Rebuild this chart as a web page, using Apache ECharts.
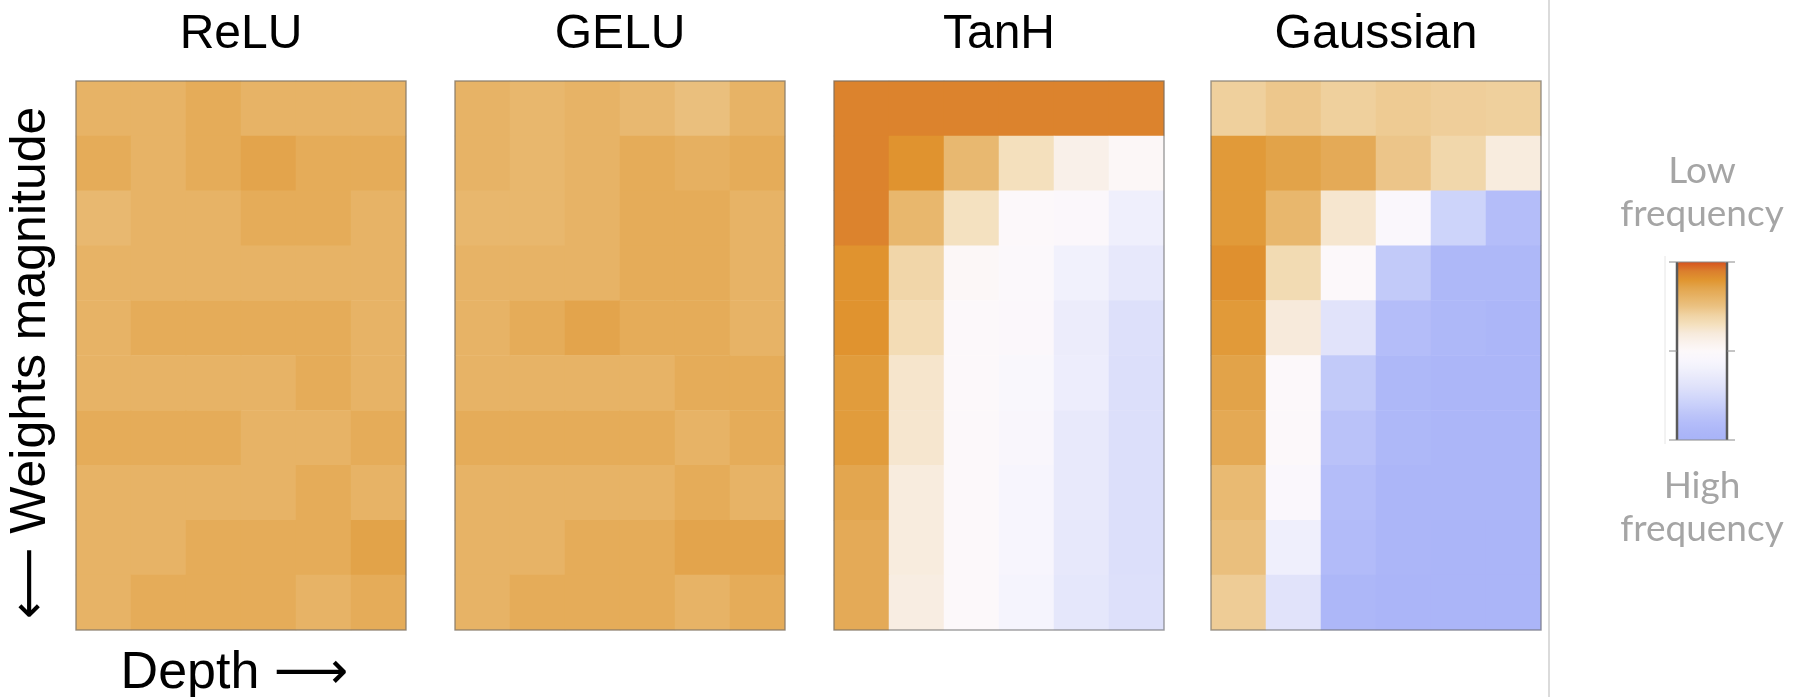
<!DOCTYPE html>
<html>
<head>
<meta charset="utf-8">
<title>Activation spectra</title>
<script src="https://cdn.jsdelivr.net/npm/echarts@6/dist/echarts.min.js"></script>
<style>
  html, body { margin: 0; padding: 0; background: #fff; }
  #chart { width: 1794px; height: 697px; }
</style>
</head>
<body>
<div id="chart"></div>
<script>
// Panels: activation functions, each a depth x weight-magnitude grid of
// frequency scores (+1 = low frequency, -1 = high frequency).
const panelNames = ['ReLU', 'GELU', 'TanH', 'Gaussian'];
const depthLevels = ['1', '2', '3', '4', '5', '6'];
const magnitudeLevels = ['1', '2', '3', '4', '5', '6', '7', '8', '9', '10'];

// Rows run from smallest weight magnitude (top) to largest (bottom).
const reluValues = [
  [0.61, 0.61, 0.66, 0.61, 0.61, 0.61],
  [0.66, 0.61, 0.66, 0.71, 0.66, 0.66],
  [0.57, 0.61, 0.61, 0.66, 0.66, 0.61],
  [0.61, 0.61, 0.61, 0.61, 0.61, 0.61],
  [0.61, 0.66, 0.66, 0.66, 0.66, 0.61],
  [0.61, 0.61, 0.61, 0.61, 0.66, 0.61],
  [0.66, 0.66, 0.66, 0.61, 0.61, 0.66],
  [0.61, 0.61, 0.61, 0.61, 0.66, 0.61],
  [0.61, 0.61, 0.66, 0.66, 0.66, 0.72],
  [0.61, 0.66, 0.66, 0.66, 0.61, 0.66]
];

const geluValues = [
  [0.61, 0.58, 0.61, 0.57, 0.52, 0.61],
  [0.61, 0.58, 0.61, 0.66, 0.63, 0.66],
  [0.58, 0.58, 0.61, 0.66, 0.66, 0.61],
  [0.61, 0.61, 0.61, 0.66, 0.66, 0.61],
  [0.61, 0.66, 0.71, 0.66, 0.66, 0.61],
  [0.61, 0.61, 0.61, 0.61, 0.66, 0.66],
  [0.66, 0.66, 0.66, 0.66, 0.61, 0.66],
  [0.61, 0.61, 0.61, 0.61, 0.66, 0.61],
  [0.61, 0.61, 0.66, 0.66, 0.71, 0.71],
  [0.61, 0.66, 0.66, 0.66, 0.61, 0.66]
];

const tanhValues = [
  [0.88, 0.88, 0.88, 0.88, 0.88, 0.88],
  [0.88, 0.81, 0.57, 0.30, 0.12, 0.02],
  [0.88, 0.58, 0.29, 0.00, -0.03, -0.22],
  [0.81, 0.38, 0.02, -0.02, -0.20, -0.31],
  [0.81, 0.33, 0.00, -0.03, -0.26, -0.42],
  [0.76, 0.25, 0.00, -0.07, -0.25, -0.43],
  [0.76, 0.24, 0.00, -0.08, -0.30, -0.43],
  [0.70, 0.18, 0.00, -0.12, -0.30, -0.43],
  [0.67, 0.18, 0.00, -0.12, -0.31, -0.43],
  [0.67, 0.16, -0.01, -0.15, -0.33, -0.42]
];

const gaussianValues = [
  [0.42, 0.47, 0.42, 0.45, 0.43, 0.42],
  [0.77, 0.72, 0.67, 0.48, 0.37, 0.18],
  [0.77, 0.58, 0.24, -0.05, -0.56, -0.80],
  [0.82, 0.34, 0.00, -0.66, -0.88, -0.88],
  [0.77, 0.20, -0.38, -0.80, -0.88, -0.92],
  [0.72, 0.00, -0.66, -0.88, -0.92, -0.92],
  [0.68, 0.00, -0.74, -0.88, -0.93, -0.93],
  [0.56, -0.05, -0.80, -0.92, -0.93, -0.93],
  [0.52, -0.22, -0.83, -0.93, -0.94, -0.94],
  [0.44, -0.38, -0.90, -0.94, -0.94, -0.94]
];

const panelValues = [reluValues, geluValues, tanhValues, gaussianValues];

// Diverging scale, evenly spaced from -1 (high frequency) to +1 (low frequency).
const scaleColors = [
  '#a8b3f8', '#adb7f8', '#b4bdf9', '#bec6f9', '#c9d0fa', '#d4d9fa',
  '#dfe2fa', '#e8e9fb', '#f1f1fc', '#f8f6fd', '#fcf8fa',
  '#faf2ec', '#f7eadb', '#f4e0bd', '#f0d3a4', '#ebc282',
  '#e7b468', '#e3a64f', '#e0952f', '#db7e2d', '#d6521e'
];

const colorbarLabels = ['Low\nfrequency', 'High\nfrequency'];

// ---- layout ----
const panelLeft = [76, 455, 834, 1211];
const panelTop = 81;
const panelWidth = 330;
const panelHeight = 549;
const bar = { x: 1677, y: 262, w: 50, h: 178 };

const titleFont = 'Liberation Sans, Arial, Helvetica, DejaVu Sans, sans-serif';

const grids = [], xAxes = [], yAxes = [], series = [], titles = [];
panelNames.forEach((name, i) => {
  grids.push({
    left: panelLeft[i], top: panelTop, width: panelWidth, height: panelHeight,
    outerBoundsMode: 'none', containLabel: false,
    show: true, z: 3, backgroundColor: 'transparent',
    borderColor: 'rgba(105,105,105,0.6)', borderWidth: 1.5
  });
  xAxes.push({
    type: 'category', gridIndex: i, data: depthLevels,
    axisLine: { show: false }, axisTick: { show: false }, axisLabel: { show: false },
    splitLine: { show: false },
    name: i === 0 ? 'Depth \u27F6' : '',
    nameLocation: 'middle', nameGap: 18,
    nameTextStyle: { fontSize: 52, color: '#000', fontFamily: titleFont, padding: [0, 13, 0, 0] }
  });
  yAxes.push({
    type: 'category', gridIndex: i, data: magnitudeLevels, inverse: true,
    axisLine: { show: false }, axisTick: { show: false }, axisLabel: { show: false },
    splitLine: { show: false },
    name: i === 0 ? '\u27F5 Weights magnitude' : '',
    nameLocation: 'middle', nameRotate: 90, nameGap: 20,
    nameTextStyle: { fontSize: 50, color: '#000', fontFamily: titleFont, padding: [0, 15, 0, 0] }
  });
  const cells = [];
  panelValues[i].forEach((row, r) => row.forEach((v, c) => cells.push([c, r, v])));
  series.push({
    type: 'heatmap', name: name, xAxisIndex: i, yAxisIndex: i, data: cells,
    itemStyle: { borderWidth: 0 }, emphasis: { disabled: true }
  });
  titles.push({
    text: name, left: panelLeft[i] + panelWidth / 2, top: 11, textAlign: 'center', padding: 0,
    textStyle: { fontSize: 48, fontWeight: 'normal', color: '#000', fontFamily: titleFont }
  });
});

const labelStyle = {
  fill: '#a5a5a5', fontSize: 37, fontFamily: 'Lato, Noto Sans, sans-serif', fontWeight: 400,
  lineHeight: 43, align: 'center', verticalAlign: 'top'
};

const chart = echarts.init(document.getElementById('chart'), null, { renderer: 'canvas' });
chart.setOption({
  backgroundColor: '#ffffff',
  animation: false,
  title: titles,
  grid: grids,
  xAxis: xAxes,
  yAxis: yAxes,
  visualMap: {
    type: 'continuous', min: -1, max: 1, orient: 'vertical', calculable: false,
    seriesIndex: [0, 1, 2, 3], inRange: { color: scaleColors },
    itemWidth: bar.w, itemHeight: bar.h, left: bar.x, top: bar.y, padding: 0,
    text: null, hoverLink: false
  },
  series: series,
  graphic: [
    // divider between panels and the colour scale
    { type: 'line', shape: { x1: 1549, y1: 0, x2: 1549, y2: 697 },
      style: { stroke: '#cfcfcf', lineWidth: 1.5 }, silent: true },
    // faint guide next to the colour scale
    { type: 'line', shape: { x1: 1665, y1: 256, x2: 1665, y2: 444 },
      style: { stroke: '#e6e6e6', lineWidth: 1 }, silent: true },
    // colour scale frame and ticks
    { type: 'line', shape: { x1: bar.x, y1: bar.y, x2: bar.x, y2: bar.y + bar.h },
      style: { stroke: '#5a5a5a', lineWidth: 2.5 }, silent: true, z: 10 },
    { type: 'line', shape: { x1: bar.x + bar.w, y1: bar.y, x2: bar.x + bar.w, y2: bar.y + bar.h },
      style: { stroke: '#5a5a5a', lineWidth: 2.5 }, silent: true, z: 10 },
    { type: 'line', shape: { x1: bar.x - 8, y1: bar.y, x2: bar.x + bar.w + 8, y2: bar.y },
      style: { stroke: '#8a8a8a', lineWidth: 1 }, silent: true, z: 10 },
    { type: 'line', shape: { x1: bar.x - 8, y1: bar.y + bar.h, x2: bar.x + bar.w + 8, y2: bar.y + bar.h },
      style: { stroke: '#8a8a8a', lineWidth: 1 }, silent: true, z: 10 },
    { type: 'line', shape: { x1: bar.x - 8, y1: bar.y + bar.h / 2, x2: bar.x, y2: bar.y + bar.h / 2 },
      style: { stroke: '#8a8a8a', lineWidth: 1 }, silent: true, z: 10 },
    { type: 'line', shape: { x1: bar.x + bar.w, y1: bar.y + bar.h / 2, x2: bar.x + bar.w + 8, y2: bar.y + bar.h / 2 },
      style: { stroke: '#8a8a8a', lineWidth: 1 }, silent: true, z: 10 },
    // colour scale captions
    { type: 'text', x: bar.x + bar.w / 2, y: 150, silent: true,
      style: Object.assign({ text: colorbarLabels[0] }, labelStyle) },
    { type: 'text', x: bar.x + bar.w / 2, y: 465, silent: true,
      style: Object.assign({ text: colorbarLabels[1] }, labelStyle) }
  ]
});
</script>
</body>
</html>
